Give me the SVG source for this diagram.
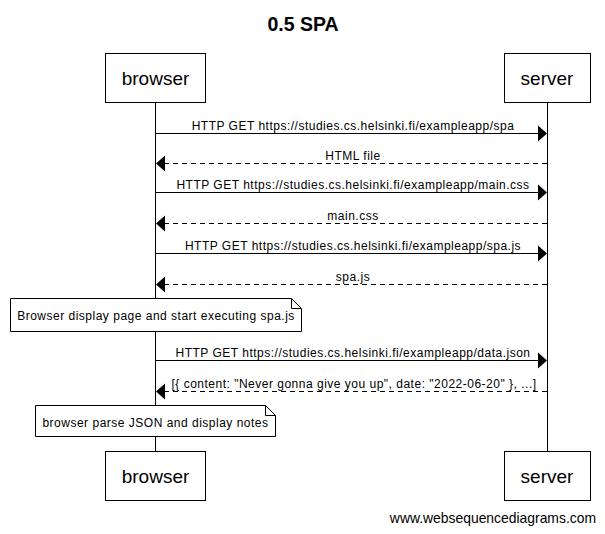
<svg xmlns="http://www.w3.org/2000/svg" width="605" height="534" viewBox="0 0 605 534">
<defs>
<style>
text{font-family:"Liberation Sans",Arial,sans-serif;fill:#000}
.title{font-size:19.5px;font-weight:bold;text-anchor:middle}
.actor{font-size:19px;text-anchor:middle}
.msg{font-size:12px;letter-spacing:0.5px;text-anchor:middle}
.note{font-size:12px;letter-spacing:0.5px;text-anchor:middle}
.foot{font-size:13.9px;text-anchor:end}
.box{fill:#fff;stroke:#000;stroke-width:1}
.life{stroke:#000;stroke-width:1;fill:none}
.sol{stroke:#000;stroke-width:1;fill:none}
.dash{stroke:#000;stroke-width:1;fill:none;stroke-dasharray:5 4}
.head{fill:#000;stroke:none}
</style>
</defs>
<rect width="605" height="534" fill="#fff"/>
<text class="title" x="303" y="31">0.5 SPA</text>
<g id="lifelines">
<line class="life" x1="155.5" y1="103" x2="155.5" y2="451"/>
<line class="life" x1="547.5" y1="103" x2="547.5" y2="451"/>
</g>
<g id="browser">
<rect class="box" x="105.5" y="53.5" width="100" height="49"/>
<text class="actor" x="155.5" y="85">browser</text>
</g>
<g id="server">
<rect class="box" x="504.5" y="53.5" width="86" height="49"/>
<text class="actor" x="547" y="85">server</text>
</g>
<g id="browser-bottom">
<rect class="box" x="105.5" y="451.5" width="100" height="49"/>
<text class="actor" x="155.5" y="483">browser</text>
</g>
<g id="server-bottom">
<rect class="box" x="504.5" y="451.5" width="86" height="49"/>
<text class="actor" x="547" y="483">server</text>
</g>
<g id="connectors">
<line class="sol" x1="155.5" y1="133.5" x2="540" y2="133.5"/>
<polygon class="head" points="547,133.5 538,125.5 538,141.5"/>
<text class="msg" x="353" y="129.5">HTTP GET https://studies.cs.helsinki.fi/exampleapp/spa</text>
<line class="dash" x1="547" y1="163.5" x2="162" y2="163.5"/>
<polygon class="head" points="156,163.5 165,155.5 165,171.5"/>
<text class="msg" x="353" y="159.5">HTML file</text>
<line class="sol" x1="155.5" y1="192.5" x2="540" y2="192.5"/>
<polygon class="head" points="547,192.5 538,184.5 538,200.5"/>
<text class="msg" x="353" y="188.5">HTTP GET https://studies.cs.helsinki.fi/exampleapp/main.css</text>
<line class="dash" x1="547" y1="223.5" x2="162" y2="223.5"/>
<polygon class="head" points="156,223.5 165,215.5 165,231.5"/>
<text class="msg" x="353" y="219.5">main.css</text>
<line class="sol" x1="155.5" y1="253.5" x2="540" y2="253.5"/>
<polygon class="head" points="547,253.5 538,245.5 538,261.5"/>
<text class="msg" x="353" y="249.5">HTTP GET https://studies.cs.helsinki.fi/exampleapp/spa.js</text>
<line class="dash" x1="547" y1="284.5" x2="162" y2="284.5"/>
<polygon class="head" points="156,284.5 165,276.5 165,292.5"/>
<text class="msg" x="353" y="280.5">spa.js</text>
<line class="sol" x1="155.5" y1="360.5" x2="540" y2="360.5"/>
<polygon class="head" points="547,360.5 538,352.5 538,368.5"/>
<text class="msg" x="353" y="356.5">HTTP GET https://studies.cs.helsinki.fi/exampleapp/data.json</text>
<line class="dash" x1="547" y1="391.5" x2="162" y2="391.5"/>
<polygon class="head" points="156,391.5 165,383.5 165,399.5"/>
<text class="msg" x="354" y="387.5">[{ content: "Never gonna give you up", date: "2022-06-20" }, ...]</text>
</g>
<g id="note1">
<path class="box" d="M10.5,298.5 H291.5 L301.5,308.5 V331.5 H10.5 Z"/>
<path class="life" d="M291.5,298.5 V308.5 H301.5"/>
<text class="note" x="156" y="319.5">Browser display page and start executing spa.js</text>
</g>
<g id="note2">
<path class="box" d="M35.5,405.5 H265.5 L275.5,415.5 V436.5 H35.5 Z"/>
<path class="life" d="M265.5,405.5 V415.5 H275.5"/>
<text class="note" x="155.5" y="426.5">browser parse JSON and display notes</text>
</g>
<text class="foot" x="596" y="523">www.websequencediagrams.com</text>
</svg>
